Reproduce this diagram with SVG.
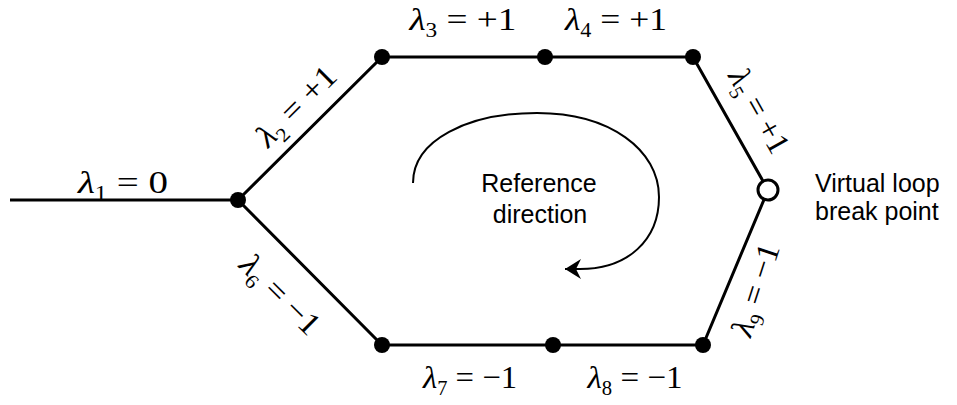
<svg xmlns="http://www.w3.org/2000/svg" width="957" height="405" viewBox="0 0 957 405">
<style>
.edge{stroke:#000;stroke-width:3;fill:none}
.arc{stroke:#000;stroke-width:2;fill:none}
.dot{fill:#000}
.open{fill:#fff;stroke:#000;stroke-width:3}
.m{font-family:"Liberation Serif","Times New Roman",serif;font-size:32px;fill:#000}
.it{font-style:italic}
.sub{font-size:20px}
.t{font-family:"Liberation Sans",Arial,sans-serif;font-size:25px;fill:#000}
</style>
<defs>
<marker id="ah" markerUnits="userSpaceOnUse" markerWidth="30" markerHeight="30" viewBox="-20 -15 30 30" refX="0" refY="0" orient="auto">
<path d="M0,0 L-16,-10 L-11,0 L-16,10 Z" fill="#000"/>
</marker>
</defs>
<g id="connectors">
<line class="edge" x1="10" y1="200" x2="238" y2="200"/>
<polyline class="edge" points="238,200 382,57 545,57 693,57 768,190 703,345 553,345 382,345 238,200"/>
<path class="arc" d="M413,183 C413,140 468,113 537,113 C610,113 659,150 659,197 C659,240 628,269 580,269 L565,269" marker-end="url(#ah)"/>
</g>
<g id="n1"><circle class="dot" cx="238" cy="200" r="8"/></g>
<g id="n2"><circle class="dot" cx="382" cy="57" r="8"/></g>
<g id="n3"><circle class="dot" cx="545" cy="57" r="8"/></g>
<g id="n4"><circle class="dot" cx="693" cy="57" r="8"/></g>
<g id="n5"><circle class="open" cx="768" cy="190" r="10"/></g>
<g id="n6"><circle class="dot" cx="703" cy="345" r="8"/></g>
<g id="n7"><circle class="dot" cx="553" cy="345" r="8"/></g>
<g id="n8"><circle class="dot" cx="382" cy="345" r="8"/></g>
<g id="labels">
<text class="m" x="123" y="193" text-anchor="middle" textLength="90" lengthAdjust="spacingAndGlyphs"><tspan class="it">λ</tspan><tspan class="sub" dy="7">1</tspan><tspan dy="-7" dx="8">= 0</tspan></text>
<text class="m" x="463" y="30" text-anchor="middle" textLength="107" lengthAdjust="spacingAndGlyphs"><tspan class="it">λ</tspan><tspan class="sub" dy="7">3</tspan><tspan dy="-7" dx="8">= +1</tspan></text>
<text class="m" x="616" y="30" text-anchor="middle" textLength="102" lengthAdjust="spacingAndGlyphs"><tspan class="it">λ</tspan><tspan class="sub" dy="7">4</tspan><tspan dy="-7" dx="8">= +1</tspan></text>
<text class="m" x="470" y="388" text-anchor="middle" textLength="94" lengthAdjust="spacingAndGlyphs"><tspan class="it">λ</tspan><tspan class="sub" dy="7">7</tspan><tspan dy="-7" dx="8">= −1</tspan></text>
<text class="m" x="635" y="388" text-anchor="middle" textLength="95" lengthAdjust="spacingAndGlyphs"><tspan class="it">λ</tspan><tspan class="sub" dy="7">8</tspan><tspan dy="-7" dx="8">= −1</tspan></text>
<text class="m" transform="translate(303.5,113.5) rotate(-45)" text-anchor="middle" textLength="100" lengthAdjust="spacingAndGlyphs"><tspan class="it">λ</tspan><tspan class="sub" dy="7">2</tspan><tspan dy="-7" dx="8">= +1</tspan></text>
<text class="m" transform="translate(750,116) rotate(60.6)" text-anchor="middle" textLength="92" lengthAdjust="spacingAndGlyphs"><tspan class="it">λ</tspan><tspan class="sub" dy="7">5</tspan><tspan dy="-7" dx="8">= +1</tspan></text>
<text class="m" transform="translate(273,302) rotate(45)" text-anchor="middle" textLength="100" lengthAdjust="spacingAndGlyphs"><tspan class="it">λ</tspan><tspan class="sub" dy="7">6</tspan><tspan dy="-7" dx="8">= −1</tspan></text>
<text class="m" transform="translate(765.5,293) rotate(-72)" text-anchor="middle" textLength="95" lengthAdjust="spacingAndGlyphs"><tspan class="it">λ</tspan><tspan class="sub" dy="7">9</tspan><tspan dy="-7" dx="8">= −1</tspan></text>
<text class="t" x="539" y="192" text-anchor="middle">Reference</text>
<text class="t" x="540" y="223" text-anchor="middle">direction</text>
<text class="t" x="815" y="192">Virtual loop</text>
<text class="t" x="815" y="220">break point</text>
</g>
</svg>
